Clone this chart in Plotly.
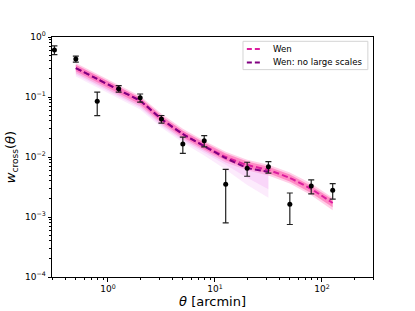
import numpy as np
import plotly.graph_objects as go

# ---- data ----
theta_obs = [0.316, 0.501, 0.794, 1.26, 2.0, 3.16, 5.01, 7.94, 12.6, 20.0, 31.6, 50.1, 79.4, 126.0]
w_obs = [0.61, 0.43, 0.0848, 0.1375, 0.0973, 0.043, 0.0165, 0.0187, 0.0035, 0.00648, 0.00689, 0.00163, 0.00329, 0.00279]
w_err = [0.10, 0.05, 0.036, 0.017, 0.015, 0.0062, 0.005, 0.004, 0.0027, 0.0017, 0.0015, 0.00088, 0.00086, 0.0008]

theta_wen = [0.501, 0.794, 1.26, 2.0, 3.16, 5.01, 7.94, 12.6, 20.0, 31.6, 50.1, 79.4, 126.0]
w_wen = [0.304, 0.1995, 0.131, 0.0858, 0.043, 0.0242, 0.0153, 0.0100, 0.00736, 0.00607, 0.00447, 0.00293, 0.00171]
wen_hi_in = [0.345, 0.226, 0.149, 0.0975, 0.0489, 0.0275, 0.0174, 0.0114, 0.0084, 0.0069, 0.0051, 0.0033, 0.00195]
wen_lo_in = [0.268, 0.176, 0.116, 0.0757, 0.038, 0.0214, 0.0135, 0.0088, 0.0065, 0.00535, 0.0039, 0.0025, 0.00145]
wen_hi_out = [0.37, 0.243, 0.16, 0.104, 0.0525, 0.0295, 0.0187, 0.0122, 0.009, 0.0074, 0.0055, 0.0036, 0.0021]
wen_lo_out = [0.248, 0.163, 0.107, 0.070, 0.035, 0.0197, 0.0125, 0.0081, 0.006, 0.0049, 0.0036, 0.0023, 0.0013]

theta_nls = [0.501, 0.794, 1.26, 2.0, 3.16, 5.01, 7.94, 12.6, 20.0, 31.6]
w_nls = [0.304, 0.1995, 0.131, 0.0858, 0.043, 0.0242, 0.0151, 0.0096, 0.0066, 0.0057]
nls_hi = [0.34, 0.223, 0.147, 0.096, 0.048, 0.027, 0.0169, 0.0107, 0.0074, 0.0064]
nls_lo = [0.235, 0.155, 0.101, 0.0665, 0.0333, 0.0187, 0.0116, 0.0074, 0.0045, 0.0029]
nls_lo_out = [0.22, 0.145, 0.095, 0.062, 0.031, 0.0174, 0.0106, 0.0062, 0.0034, 0.0021]

series_names = ["Wen", "Wen: no large scales"]

x_major = [1, 10, 100]
x_major_text = ["10<sup>0</sup>", "10<sup>1</sup>", "10<sup>2</sup>"]
y_major = [1e-4, 1e-3, 1e-2, 1e-1, 1]
y_major_text = ["10<sup>−4</sup>", "10<sup>−3</sup>", "10<sup>−2</sup>", "10<sup>−1</sup>", "10<sup>0</sup>"]

WEN = "#dc1e9e"
NLS = "#800080"
FONT = "DejaVu Sans"

fig = go.Figure()

def band(x, lo, hi, color):
    fig.add_trace(go.Scatter(x=list(x) + list(x)[::-1], y=list(hi) + list(lo)[::-1],
                             fill="toself", fillcolor=color, line=dict(width=0),
                             mode="lines", hoverinfo="skip", showlegend=False))

band(theta_nls, nls_lo_out, nls_hi, "rgba(238,130,238,0.16)")
band(theta_nls, nls_lo, nls_hi, "rgba(238,130,238,0.2)")
band(theta_wen, wen_lo_out, wen_hi_out, "rgba(255,105,180,0.32)")
band(theta_wen, wen_lo_in, wen_hi_in, "rgba(255,90,170,0.58)")

DASH = "6px,3px"
fig.add_trace(go.Scatter(x=theta_wen, y=w_wen, mode="lines", name=series_names[0], showlegend=False,
                         line=dict(color=WEN, width=2, dash=DASH, shape="spline", smoothing=0.6)))
fig.add_trace(go.Scatter(x=theta_nls, y=w_nls, mode="lines", name=series_names[1], showlegend=False,
                         line=dict(color=NLS, width=2, dash=DASH, shape="spline", smoothing=0.6)))

fig.add_trace(go.Scatter(x=theta_obs, y=w_obs, mode="markers", showlegend=False,
                         marker=dict(color="black", size=5),
                         error_y=dict(type="data", array=w_err, visible=True,
                                      color="#222", thickness=1.2, width=3)))

x_minor = [m * 10.0 ** e for e in (-1, 0, 1, 2) for m in range(2, 10)]
x_minor = [v for v in x_minor if 0.3 <= v <= 300]
y_minor = [m * 10.0 ** e for e in (-4, -3, -2, -1) for m in range(2, 10)]

axis_common = dict(showline=True, linecolor="black", linewidth=1, mirror=True,
                   ticks="outside", ticklen=3.5, tickwidth=1, tickcolor="black",
                   showgrid=False, zeroline=False, automargin=False,
                   tickfont=dict(family=FONT, size=9, color="black"))

fig.update_xaxes(type="log", range=[np.log10(0.3), np.log10(300)],
                 tickmode="array", tickvals=x_major, ticktext=x_major_text,
                 minor=dict(tickmode="array", tickvals=x_minor, ticks="outside",
                            ticklen=2, tickwidth=0.8, tickcolor="black", showgrid=False),
                 title=dict(text="<i>θ</i> [arcmin]", standoff=3,
                            font=dict(family=FONT, size=13, color="black")),
                 **axis_common)
fig.update_yaxes(type="log", range=[-4, 0],
                 tickmode="array", tickvals=y_major, ticktext=y_major_text,
                 minor=dict(tickmode="array", tickvals=y_minor, ticks="outside",
                            ticklen=2, tickwidth=0.8, tickcolor="black", showgrid=False),
                 title=dict(text="<i>w</i><sub>cross</sub>(<i>θ</i>)", standoff=6,
                            font=dict(family=FONT, size=13, color="black")),
                 **axis_common)

# matplotlib-style legend box (layout decoration, paper coordinates)
lx0, lx1, ly0, ly1 = 0.595, 0.984, 0.864, 0.982
fig.add_shape(type="rect", xref="paper", yref="paper", x0=lx0, x1=lx1, y0=ly0, y1=ly1,
              line=dict(color="#d4d4d4", width=1), fillcolor="rgba(255,255,255,0.8)")
row_y = [0.95, 0.894]
for name, col, yy in zip(series_names, [WEN, NLS], row_y):
    fig.add_shape(type="line", xref="paper", yref="paper", x0=0.607, x1=0.655, y0=yy, y1=yy,
                  line=dict(color=col, width=2, dash="5px,3px"))
    fig.add_annotation(xref="paper", yref="paper", x=0.683, y=yy, text=name, showarrow=False,
                       xanchor="left", yanchor="middle",
                       font=dict(family=FONT, size=8.6, color="black"))

fig.update_layout(width=415, height=311,
                  margin=dict(l=52, r=42, t=37, b=34),
                  paper_bgcolor="white", plot_bgcolor="white",
                  font=dict(family=FONT, size=9, color="black"),
                  showlegend=False)

fig.write_html("out.html", config={"displayModeBar": False},
               post_script="document.body.style.margin='0';document.body.style.overflow='hidden';")
